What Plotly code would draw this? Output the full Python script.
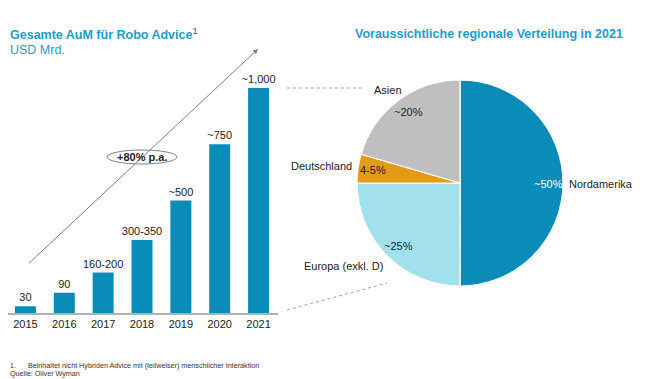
import plotly.graph_objects as go

years = ["2015", "2016", "2017", "2018", "2019", "2020", "2021"]
aum = [30, 90, 180, 325, 500, 750, 1000]
aum_labels = ["30", "90", "160-200", "300-350", "~500", "~750", "~1,000"]

regions = ["Nordamerika", "Europa (exkl. D)", "Deutschland", "Asien"]
shares = [50, 25, 4.5, 20.5]
share_labels = ["~50%", "~25%", "4-5%", "~20%"]
pie_colors = ["#0a8cb8", "#a3e0ee", "#e39a17", "#bfbfbf"]

# page body has an 8px default margin; lay out in window pixels and compensate
OFF = 8
W, H = 650 - OFF, 379 - OFF
FONT = "Liberation Sans, Arial, sans-serif"
BLUE = "#0a8cb8"
TITLE_BLUE = "#1b9dd0"


def px(x):
    return max(0.0, (x - OFF) / W)


def py(y):
    return (H - (y - OFF)) / H


# bar axis: category spacing ~38.83px, axis from x=8 to 278
CAT = (278 - 6) / 7.0
X0 = 8

fig = go.Figure()

fig.add_trace(go.Bar(
    x=years, y=aum, text=aum_labels, textposition="outside",
    constraintext="none", cliponaxis=False,
    marker=dict(color=BLUE, line=dict(width=0)),
    textfont=dict(family=FONT, size=11, color="#222222"),
    hoverinfo="skip", showlegend=False,
))

fig.add_trace(go.Pie(
    labels=regions, values=shares, sort=False, direction="clockwise",
    rotation=0, textinfo="none", hoverinfo="skip", showlegend=False,
    marker=dict(colors=pie_colors, line=dict(color="white", width=1.2)),
    domain=dict(x=[px(357), px(563)], y=[py(286), py(80)]),
))

fig.update_layout(
    width=W, height=H, margin=dict(l=0, r=0, t=0, b=0),
    paper_bgcolor="white", plot_bgcolor="white",
    bargap=0.46,
    xaxis=dict(domain=[px(X0), px(278)], type="category",
               range=[-0.5 + (X0 - 6) / CAT, 6.5],
               showgrid=False, showline=True, linecolor="#b0b0b0", linewidth=1.5,
               ticks="", tickfont=dict(family=FONT, size=11, color="#222222"),
               fixedrange=True),
    yaxis=dict(domain=[py(313), py(88)], range=[0, 1000], visible=False,
               showgrid=False, zeroline=False, fixedrange=True),
    font=dict(family=FONT),
)

ann = []
# titles
ann.append(dict(x=px(8), y=py(34), xref="paper", yref="paper", xanchor="left", yanchor="middle",
                text="<b>Gesamte AuM für Robo Advice<sup>1</sup></b>", showarrow=False,
                font=dict(family=FONT, size=12.5, color=TITLE_BLUE)))
ann.append(dict(x=px(8), y=py(50), xref="paper", yref="paper", xanchor="left", yanchor="middle",
                text="USD Mrd.", showarrow=False,
                font=dict(family=FONT, size=12.5, color=TITLE_BLUE)))
ann.append(dict(x=px(353), y=py(34), xref="paper", yref="paper", xanchor="left", yanchor="middle",
                text="<b>Voraussichtliche regionale Verteilung in 2021</b>", showarrow=False,
                font=dict(family=FONT, size=12.5, color=TITLE_BLUE)))
# growth arrow
ann.append(dict(x=px(258), y=py(49), xref="paper", yref="paper", ax=-232, ay=217,
                axref="pixel", ayref="pixel", showarrow=True, arrowhead=2, arrowsize=1,
                arrowwidth=1, arrowcolor="#7f7f7f", text=" "))
ann.append(dict(x=px(142), y=py(157), xref="paper", yref="paper", xanchor="center", yanchor="middle",
                text="<b>+80% p.a.</b>", showarrow=False,
                font=dict(family=FONT, size=11, color="#222222")))
# pie labels
lab_pos = {
    "Nordamerika": (567, 184, "left"),
    "Europa (exkl. D)": (385, 266, "right"),
    "Deutschland": (354, 166, "right"),
    "Asien": (372, 90, "left"),
}
pct_pos = {
    "~50%": (548, 184, "white"),
    "~25%": (398, 246, "#222222"),
    "4-5%": (373, 170, "#222222"),
    "~20%": (408, 112, "#222222"),
}
for name in regions:
    x, y, anc = lab_pos[name]
    ann.append(dict(x=px(x), y=py(y), xref="paper", yref="paper", xanchor=anc, yanchor="middle",
                    text=name, showarrow=False, font=dict(family=FONT, size=11, color="#222222")))
for t in share_labels:
    x, y, c = pct_pos[t]
    ann.append(dict(x=px(x), y=py(y), xref="paper", yref="paper", xanchor="center", yanchor="middle",
                    text=t, showarrow=False, font=dict(family=FONT, size=11, color=c)))
# footnotes
ann.append(dict(x=px(8), y=py(365), xref="paper", yref="paper", xanchor="left", yanchor="middle",
                text="1.      Beinhaltet nicht Hybriden Advice mit (teilweiser) menschlicher Interaktion",
                showarrow=False, font=dict(family=FONT, size=7.2, color="#333333")))
ann.append(dict(x=px(8), y=py(373), xref="paper", yref="paper", xanchor="left", yanchor="middle",
                text="Quelle: Oliver Wyman", showarrow=False,
                font=dict(family=FONT, size=7.2, color="#333333")))
fig.update_layout(annotations=ann)

shapes = [
    dict(type="circle", xref="paper", yref="paper", x0=px(107), x1=px(177), y0=py(164), y1=py(150),
         line=dict(color="#7f7f7f", width=1), fillcolor="white", layer="above"),
    dict(type="line", xref="paper", yref="paper", x0=px(287), y0=py(88), x1=px(365), y1=py(88),
         line=dict(color="#a0a0a0", width=1, dash="dot")),
    dict(type="line", xref="paper", yref="paper", x0=px(287), y0=py(310), x1=px(387), y1=py(283),
         line=dict(color="#a0a0a0", width=1, dash="dot")),
]
fig.update_layout(shapes=shapes)

fig.write_html("out.html")
